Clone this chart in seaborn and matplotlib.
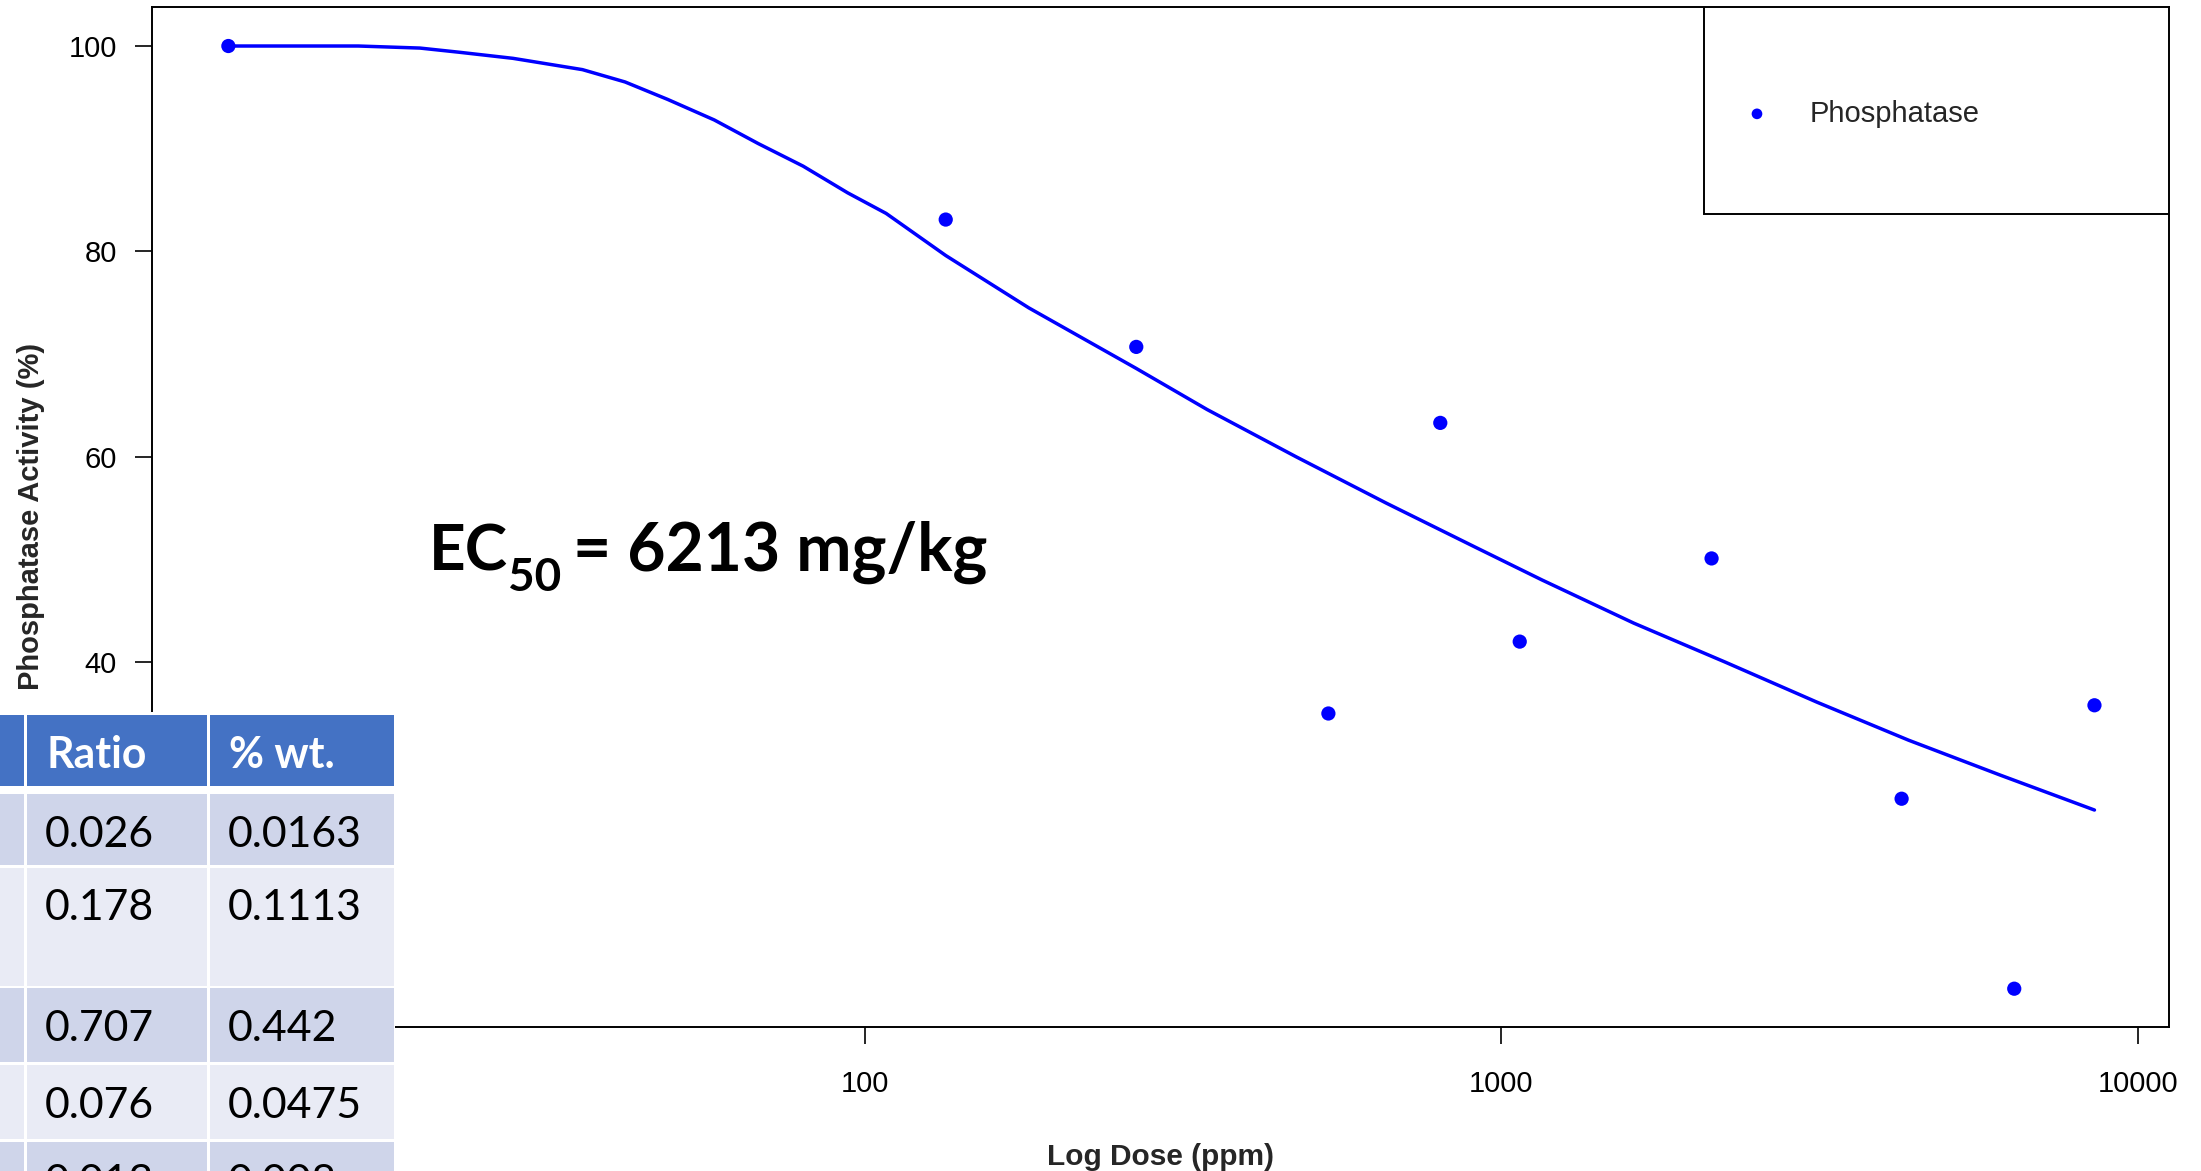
import matplotlib
matplotlib.use("Agg")
import matplotlib.pyplot as plt
import pandas as pd
import seaborn as sns
from matplotlib.patches import Rectangle
from matplotlib.ticker import FixedLocator, FixedFormatter, NullLocator

# measured points (dose in ppm, activity in %)
dose_ppm = [10, 134, 267, 535, 802, 1069, 2140, 4256, 6397, 8551]
activity_pct = [100.0, 83.1, 70.7, 35.0, 63.3, 42.0, 50.1, 26.7, 8.2, 35.8]

# fitted dose-response curve
fit_dose = [10, 16, 20, 23, 28, 36, 42, 49, 58, 68, 80, 94, 108, 134, 181,
            267, 345, 476, 659, 910, 1159, 1615, 2249, 3134, 4365, 6081, 8551]
fit_activity = [100.0, 100.0, 99.8, 99.4, 98.8, 97.7, 96.5, 94.8, 92.8, 90.5,
                88.3, 85.7, 83.7, 79.6, 74.5, 68.6, 64.6, 60.0, 55.5, 51.2,
                48.0, 43.8, 40.0, 36.1, 32.4, 29.0, 25.6]

x_ticks = [10, 100, 1000, 10000]
x_tick_labels = ["10", "100", "1000", "10000"]
y_ticks = [20, 40, 60, 80, 100]
y_tick_labels = ["20", "40", "60", "80", "100"]

# overlaid table (partially cropped in the original)
table_header = ["", "Ratio", "% wt."]
table_label = ["", "", "", "", ""]
table_ratio = ["0.026", "0.178", "0.707", "0.076", "0.013"]
table_wt = ["0.0163", "0.1113", "0.442", "0.0475", "0.008"]

ec50_parts = ["EC", "50", "= 6213 mg/kg"]

W, H = 2201, 1171

sns.set_style("white")
plt.rcParams["font.family"] = ["Liberation Sans", "DejaVu Sans"]

fig = plt.figure(figsize=(W / 100, H / 100), dpi=100)
ax_left, ax_right, ax_top, ax_bot = 152.0, 2168.6, 7.3, 1026.7
ax = fig.add_axes([ax_left / W, 1 - ax_bot / H, (ax_right - ax_left) / W, (ax_bot - ax_top) / H])

points = pd.DataFrame({"dose": dose_ppm, "activity": activity_pct})
curve = pd.DataFrame({"dose": fit_dose, "activity": fit_activity})

sns.lineplot(data=curve, x="dose", y="activity", ax=ax, color="#0000FF",
             linewidth=2.5, estimator=None, sort=True, legend=False)
sns.scatterplot(data=points, x="dose", y="activity", ax=ax, color="#0000FF",
                s=105, edgecolor="none", label="Phosphatase", zorder=4)

ax.set_xscale("log")
ax.set_xlim(10 ** 0.880, 10 ** 4.0485)
ax.set_ylim(4.5, 103.77)
ax.xaxis.set_major_locator(FixedLocator(x_ticks))
ax.xaxis.set_major_formatter(FixedFormatter(x_tick_labels))
ax.xaxis.set_minor_locator(NullLocator())
ax.yaxis.set_major_locator(FixedLocator(y_ticks))
ax.yaxis.set_major_formatter(FixedFormatter(y_tick_labels))

for sp in ax.spines.values():
    sp.set_visible(True)
    sp.set_color("black")
    sp.set_linewidth(1.4)
ax.tick_params(axis="both", which="major", bottom=True, left=True, direction="out",
               length=12.2, width=1.2, color="black", labelsize=21, labelcolor="black")
ax.tick_params(axis="y", pad=13)
ax.tick_params(axis="x", pad=19)

ax.set_xlabel("Log Dose (ppm)", fontsize=21.5, fontweight="bold")
ax.set_ylabel("Phosphatase Activity (%)", fontsize=21, fontweight="bold")
ax.xaxis.set_label_coords(0.5, (ax_bot - 1143) / (ax_bot - ax_top))
ax.yaxis.set_label_coords((45.5 - ax_left) / (ax_right - ax_left), 0.501)

# legend box like R's
lx0 = (1704.4 - ax_left) / (ax_right - ax_left)
ly0 = (ax_bot - 214.3) / (ax_bot - ax_top)
ax.add_patch(Rectangle((lx0, ly0), 1 - lx0, 1 - ly0, transform=ax.transAxes,
                       facecolor="white", edgecolor="black", linewidth=1.4, zorder=5))
leg = ax.legend(loc="center left",
                bbox_to_anchor=((1742.4 - ax_left) / (ax_right - ax_left),
                                (ax_bot - 113.5) / (ax_bot - ax_top)),
                frameon=False, fontsize=21, borderpad=0, borderaxespad=0,
                handlelength=1.0, handletextpad=1.3, markerscale=0.75)
leg.set_zorder(6)


def fx(x):
    return x / W


def fy(y):
    return 1 - y / H


def box(x0, y0, x1, y1, color, z=20):
    fig.add_artist(Rectangle((fx(x0), fy(y1)), fx(x1) - fx(x0), fy(y0) - fy(y1),
                             transform=fig.transFigure, facecolor=color,
                             edgecolor="none", zorder=z))


# table overlay
box(0, 711.5, 395, H + 5, "white", z=19)
col_edges = [(-5, 24), (26.7, 206.7), (209.7, 393.7)]
header_rows = (714.7, 785.7)
row_edges = [(794.3, 865.0), (867.7, 985.7), (988.3, 1061.7), (1065.0, 1139.0), (1142.3, H + 5)]
row_colors = ["#CFD5EA", "#E9EBF5", "#CFD5EA", "#E9EBF5", "#CFD5EA"]

for (c0, c1), label in zip(col_edges, table_header):
    box(c0, header_rows[0], c1, header_rows[1], "#4472C4")
    if label:
        fig.text(fx(c0 + 19.5), fy(header_rows[0] + 53.5), label, color="white",
                 fontsize=30.8, fontweight="bold", family="Lato", va="baseline",
                 ha="left", zorder=21)

for i, (r0, r1) in enumerate(row_edges):
    cells = [table_label[i], table_ratio[i], table_wt[i]]
    for (c0, c1), txt in zip(col_edges, cells):
        box(c0, r0, c1, r1, row_colors[i])
        if txt:
            fig.text(fx(c0 + 18.5), fy(r0 + 52.5), txt, color="black",
                     fontsize=30.8, family="Lato", va="baseline", ha="left", zorder=21)

# EC50 annotation: main text, lowered subscript, rest
fig.text(fx(428.5), fy(570.7), ec50_parts[0], fontsize=46, fontweight="bold",
         family="Lato", va="baseline", ha="left", color="black", zorder=21)
fig.text(fx(508.5), fy(590.7), ec50_parts[1], fontsize=33, fontweight="bold",
         family="Lato", va="baseline", ha="left", color="black", zorder=21)
fig.text(fx(573.0), fy(570.7), ec50_parts[2], fontsize=47.5, fontweight="bold",
         family="Lato", va="baseline", ha="left", color="black", zorder=21)

fig.savefig("out.png", dpi=100, facecolor="white")
